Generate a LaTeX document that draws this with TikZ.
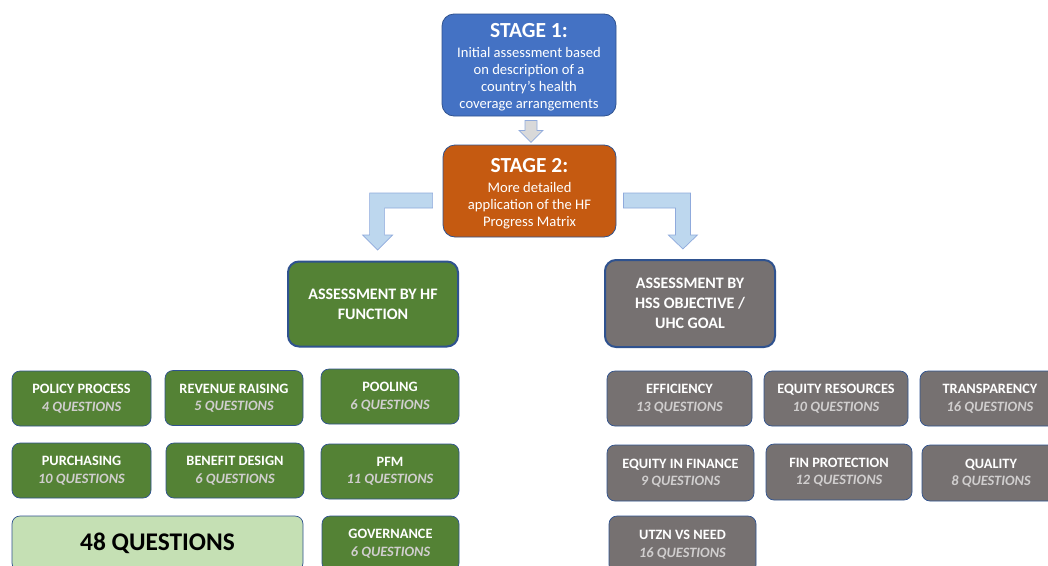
\documentclass[tikz,border=0pt]{standalone}
\usepackage{fontspec}
\setmainfont{Carlito}
\usetikzlibrary{calc}
\definecolor{sblue}{HTML}{4472C4}
\definecolor{sorange}{HTML}{C55A11}
\definecolor{sgreen}{HTML}{548235}
\definecolor{sgray}{HTML}{767171}
\definecolor{lgreen}{HTML}{C5E0B4}
\definecolor{edge}{HTML}{2F528F}
\definecolor{arrowfill}{HTML}{BDD7EE}
\definecolor{arrowedge}{HTML}{8FAADC}
\definecolor{smallfill}{HTML}{D9D9D9}
\definecolor{subtxt}{HTML}{D0CECE}
\tikzset{
  stagebox/.style={draw=edge, line width=0.8pt, rounded corners=12pt, text=white, align=center, inner sep=0pt,
    font=\fontsize{14.6}{17}\selectfont},
  bigbox/.style={draw=edge, line width=2pt, rounded corners=11pt, text=white, align=center, inner sep=0pt,
    font=\bfseries\fontsize{16}{20}\selectfont, minimum width=170, minimum height=85},
  qbox/.style={draw=edge, line width=0.7pt, rounded corners=8pt, text=white, align=center, inner sep=0pt,
    font=\bfseries\fontsize{14.3}{17.5}\selectfont, minimum height=55},
  fbox/.style={qbox, fill=sgreen, minimum width=138},
  gbox/.style={qbox, fill=sgray},
  blockarrow/.style={fill=arrowfill, draw=arrowedge, line width=0.7pt, line join=miter},
  smallarrow/.style={fill=smallfill, draw=arrowedge, line width=0.7pt, line join=miter}
}
\newcommand{\qsub}[1]{\textcolor{subtxt}{\bfseries\itshape #1}}
\newcommand{\stagehead}[1]{{\bfseries\fontsize{21.5}{21.5}\selectfont\rule{0pt}{19.5pt}#1}}
\begin{document}
\begin{tikzpicture}[x=1pt,y=-1pt]
\clip (0,0) rectangle (1048,565);
\fill[white] (0,0) rectangle (1048,565);

% stages
\node[stagebox, fill=sblue, minimum width=174, minimum height=102] (s1) at (529,65)
  {\stagehead{STAGE 1:}\\[3pt]Initial assessment based\\on description of a\\country’s health\\coverage arrangements};
\node[stagebox, fill=sorange, minimum width=173, minimum height=92] (s2) at (529.5,191)
  {\stagehead{STAGE 2:}\\[3pt]More detailed\\application of the HF\\Progress Matrix};

% block arrows
\coordinate (a0) at ($(s1.south)+(-4,4)$);
\draw[smallarrow] (a0) -- ++(12,0) -- ++(0,10) -- ++(6,0) -- ++(-12,12) -- ++(-12,-12) -- ++(6,0) -- cycle;
\coordinate (la) at ($(s2.west)+(-10,2)$);
\draw[blockarrow] (la) -- ++(0,15) -- ++(-48,0) -- ++(0,27) -- ++(8,0) -- ++(-15,15) -- ++(-15,-15) -- ++(7,0) -- ++(0,-42) -- cycle;
\coordinate (ra) at ($(s2.east)+(7,2)$);
\draw[blockarrow] (ra) -- ++(67,0) -- ++(0,42) -- ++(7,0) -- ++(-14.5,14) -- ++(-14.5,-14) -- ++(7,0) -- ++(0,-27) -- ++(-52,0) -- cycle;

% assessment boxes
\node[bigbox, fill=sgreen] (hf) at (373,304) {ASSESSMENT BY HF\\FUNCTION};
\node[bigbox, fill=sgray, minimum height=87] (hss) at (690,303.5) {ASSESSMENT BY\\HSS OBJECTIVE /\\UHC GOAL};

% HF function boxes
\node[fbox, minimum width=139] (policy) at (81.5,398.5) {POLICY PROCESS\\\qsub{4 QUESTIONS}};
\node[fbox] (revenue) at (234,398) {REVENUE RAISING\\\qsub{5 QUESTIONS}};
\node[fbox] (pooling) at (390,396.5) {POOLING\\\qsub{6 QUESTIONS}};
\node[fbox, minimum width=139] (purch) at (81.5,470.5) {PURCHASING\\\qsub{10 QUESTIONS}};
\node[fbox] (benefit) at (235,470.5) {BENEFIT DESIGN\\\qsub{6 QUESTIONS}};
\node[fbox] (pfm) at (390,471.5) {PFM\\\qsub{11 QUESTIONS}};
\node[qbox, fill=lgreen, text=black, minimum width=291, font=\bfseries\fontsize{25.4}{28}\selectfont] (total) at (157.5,543.5) {48 QUESTIONS};
\node[fbox, minimum width=137] (gov) at (390.5,543.5) {GOVERNANCE\\\qsub{6 QUESTIONS}};

% HSS objective boxes
\node[gbox, minimum width=145] (eff) at (679.5,398.5) {EFFICIENCY\\\qsub{13 QUESTIONS}};
\node[gbox, minimum width=144] (eqres) at (836,398.5) {EQUITY RESOURCES\\\qsub{10 QUESTIONS}};
\node[gbox, minimum width=140] (transp) at (990,398.5) {TRANSPARENCY\\\qsub{16 QUESTIONS}};
\node[gbox, minimum width=147, minimum height=56] (eqfin) at (680.5,473) {EQUITY IN FINANCE\\\qsub{9 QUESTIONS}};
\node[gbox, minimum width=146, minimum height=56] (finprot) at (839,472) {FIN PROTECTION\\\qsub{12 QUESTIONS}};
\node[gbox, minimum width=138, minimum height=56] (quality) at (991,473) {QUALITY\\\qsub{8 QUESTIONS}};
\node[gbox, minimum width=147, minimum height=57] (utzn) at (682.5,544.5) {UTZN VS NEED\\\qsub{16 QUESTIONS}};
\end{tikzpicture}
\end{document}
